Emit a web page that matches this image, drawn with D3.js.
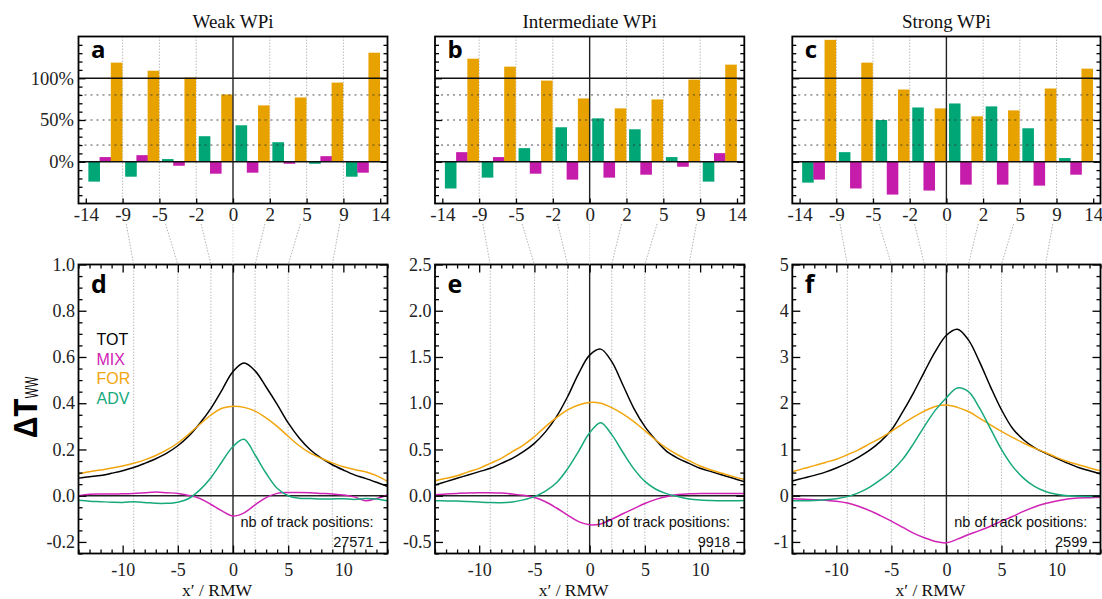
<!DOCTYPE html>
<html><head><meta charset="utf-8">
<script src="https://cdn.jsdelivr.net/npm/d3@7"></script>
<style>body{margin:0;background:#fff}svg{display:block}</style>
</head><body>
<svg id="chart" width="1102" height="599"></svg>
<script>
// ---------------- DATA ----------------
const titles = ["Weak WPi", "Intermediate WPi", "Strong WPi"];
const topLetters = ["a", "b", "c"];
const botLetters = ["d", "e", "f"];
const binLabels = [-14, -9, -5, -2, 0, 2, 5, 9, 14];
const series = ["TOT", "MIX", "FOR", "ADV"];

// bar panels: % contribution per bin (8 bins)
const advPctA = [-23.8, -17.9, 3.2, 30.6, 43.7, 23.4, -2.4, -17.9];
const mixPctA = [5.6, 7.9, -4.8, -14.3, -13.1, -2.4, 6.7, -13.1];
const forPctA = [118.7, 109, 100.8, 80.6, 67.5, 77, 94.8, 130.6];
const advPctB = [-32, -19, 16.3, 41.3, 52, 38.9, 5.6, -23.8];
const mixPctB = [11.5, 5.6, -14.3, -21.4, -19, -15.5, -6, 10.3];
const forPctB = [123.4, 113.9, 97.2, 75.8, 63.9, 74.6, 98.4, 116.3];
const advPctC = [-25, 11.5, 50, 65, 69.8, 66.3, 40.1, 4.4];
const mixPctC = [-21.4, -32, -39.3, -34.5, -27.4, -27.4, -28.6, -15.5];
const forPctC = [146, 118.7, 86.5, 63.9, 54.4, 61.5, 87.7, 111.5];

const pctTicks = [0, 50, 100];
const pctLabels = ["0%", "50%", "100%"];
const pctMinor = [-40, -30, -20, -10, 10, 20, 30, 40, 60, 70, 80, 90, 110, 120, 130, 140];
const pctDotted = [20, 50, 80];
const pctDomain = [-50, 150];

// curve panels: x' / RMW
const xGrid = [-14,-13,-12,-11,-10,-9,-8,-7,-6,-5,-4,-3,-2,-1,0,1,2,3,4,5,6,7,8,9,10,11,12,13,14];

const totD = [0.076,0.082,0.087,0.097,0.108,0.122,0.14,0.16,0.184,0.216,0.258,0.313,0.378,0.457,0.537,0.574,0.54,0.47,0.395,0.315,0.25,0.199,0.162,0.134,0.111,0.09,0.075,0.058,0.04];
const mixD = [-0.001,0.006,0.007,0.007,0.008,0.01,0.013,0.016,0.013,0.01,0.001,-0.012,-0.038,-0.066,-0.088,-0.074,-0.04,-0.008,0.01,0.014,0.014,0.013,0.01,0.007,0.003,-0.005,-0.022,-0.012,0.003];
const forD = [0.095,0.104,0.111,0.12,0.128,0.14,0.155,0.174,0.198,0.228,0.267,0.309,0.349,0.378,0.387,0.382,0.366,0.337,0.3,0.257,0.216,0.184,0.162,0.142,0.125,0.113,0.104,0.087,0.062];
const advD = [-0.02,-0.024,-0.026,-0.028,-0.029,-0.026,-0.029,-0.033,-0.033,-0.028,-0.012,0.025,0.078,0.147,0.213,0.244,0.176,0.097,0.032,0.0,-0.011,-0.012,-0.014,-0.014,-0.013,-0.016,-0.012,-0.014,-0.022];

const totE = [0.115,0.152,0.188,0.224,0.26,0.296,0.35,0.404,0.476,0.566,0.69,0.855,1.07,1.32,1.52,1.585,1.45,1.2,0.945,0.747,0.6,0.476,0.404,0.35,0.296,0.26,0.224,0.188,0.152];
const mixE = [0.008,0.018,0.025,0.03,0.033,0.032,0.028,0.018,0.004,-0.02,-0.065,-0.133,-0.21,-0.28,-0.315,-0.305,-0.255,-0.195,-0.14,-0.085,-0.04,-0.008,0.012,0.02,0.024,0.025,0.025,0.025,0.025];
const forE = [0.162,0.188,0.216,0.258,0.296,0.35,0.404,0.476,0.548,0.639,0.747,0.844,0.927,0.981,1.008,1.0,0.952,0.884,0.8,0.703,0.6,0.512,0.44,0.379,0.321,0.278,0.242,0.206,0.177];
const advE = [-0.054,-0.056,-0.058,-0.063,-0.069,-0.074,-0.075,-0.068,-0.045,-0.01,0.05,0.14,0.29,0.48,0.68,0.79,0.66,0.47,0.29,0.155,0.07,0.02,-0.01,-0.035,-0.047,-0.052,-0.055,-0.055,-0.053];

const totF = [0.32,0.38,0.44,0.51,0.6,0.705,0.83,0.98,1.17,1.42,1.8,2.22,2.68,3.12,3.47,3.6,3.37,2.9,2.36,1.86,1.46,1.21,1.04,0.92,0.81,0.705,0.61,0.54,0.47];
const mixF = [-0.065,-0.075,-0.086,-0.1,-0.12,-0.16,-0.23,-0.32,-0.43,-0.55,-0.68,-0.81,-0.91,-0.99,-1.02,-0.94,-0.84,-0.755,-0.66,-0.55,-0.45,-0.34,-0.245,-0.17,-0.115,-0.07,-0.05,-0.043,-0.036];
const forF = [0.52,0.585,0.65,0.72,0.79,0.885,0.99,1.12,1.245,1.39,1.55,1.7,1.83,1.93,1.96,1.91,1.82,1.68,1.53,1.39,1.26,1.14,1.03,0.935,0.83,0.74,0.67,0.6,0.54];
const advF = [-0.11,-0.11,-0.105,-0.09,-0.065,-0.02,0.06,0.18,0.34,0.53,0.78,1.12,1.5,1.85,2.12,2.33,2.25,1.9,1.45,1.0,0.64,0.38,0.2,0.09,0.03,0.0,-0.012,-0.015,-0.015];

const trackCounts = ["27571", "9918", "2599"];
const yDomains = [[-0.25, 1.0], [-0.625, 2.5], [-1.25, 5]];
const yMajor = [[-0.2, 0, 0.2, 0.4, 0.6, 0.8, 1.0], [-0.5, 0, 0.5, 1.0, 1.5, 2.0, 2.5], [-1, 0, 1, 2, 3, 4, 5]];
const yMinorStep = [0.05, 0.125, 0.25];
const yDecimals = [1, 1, 0];
const xMajor = [-10, -5, 0, 5, 10];
const xMinor = [-14,-13,-12,-11,-9,-8,-7,-6,-4,-3,-2,-1,1,2,3,4,6,7,8,9,11,12,13,14];
const markerX = [-9, -5, -2, 2, 5, 9];

// ---------------- LAYOUT / STYLE ----------------
const barsByPanel = [[advPctA, mixPctA, forPctA], [advPctB, mixPctB, forPctB], [advPctC, mixPctC, forPctC]];
const linesByPanel = [[totD, mixD, forD, advD], [totE, mixE, forE, advE], [totF, mixF, forF, advF]];
const cols = [[78.5, 387.5], [435, 744.3], [792.3, 1100.5]];
const TOP = [36.5, 203.5], BOT = [264.5, 553.5];
const serif = "'Liberation Serif','DejaVu Serif',serif";
const sans = "'Open Sans','Noto Sans','DejaVu Sans',sans-serif";
const plainSans = "'Liberation Sans',Arial,sans-serif";
const barColors = ["#00a676", "#c61cab", "#e8a200"];
const lineColors = {TOT: "#000000", MIX: "#d022b5", FOR: "#f2a60d", ADV: "#17a97c"};

const svg = d3.select("#chart");

function styleAxis(g, size) {
  g.attr("font-family", null).attr("font-size", null);
  g.select(".domain").remove();
  g.selectAll(".tick line").attr("stroke", "#000").attr("stroke-width", 1.3);
  g.selectAll(".tick text").filter(function () { return this.textContent === ""; }).remove();
  g.selectAll(".tick text")
    .style("font-family", serif).style("font-size", (size || 18) + "px").attr("fill", "#222");
}

cols.forEach(([x0, x1], i) => {
  // ================= TOP BAR PANEL =================
  const gt = svg.append("g");
  const xi = d3.scaleLinear().domain([0, 8]).range([x0 + 7.3, x1 - 7.3]);
  const yp = d3.scaleLinear().domain(pctDomain).range([TOP[1], TOP[0]]);
  const bw = xi(1) - xi(0);

  [1, 2, 3, 5, 6, 7].forEach(k => {
    gt.append("line").attr("x1", xi(k)).attr("x2", xi(k)).attr("y1", TOP[0]).attr("y2", TOP[1])
      .attr("stroke", "#b5b5b5").attr("stroke-width", 0.9).attr("stroke-dasharray", "1.5,1.5");
  });

  barsByPanel[i].forEach((vals, s) => {
    gt.selectAll(null).data(vals).enter().append("rect")
      .attr("x", (d, k) => xi(k) + bw * 0.07 + s * bw * 0.305)
      .attr("width", bw * 0.315)
      .attr("y", d => yp(Math.max(0, d)))
      .attr("height", d => Math.abs(yp(d) - yp(0)))
      .attr("fill", barColors[s]);
  });

  pctDotted.forEach(v => {
    gt.append("line").attr("x1", x0).attr("x2", x1).attr("y1", yp(v)).attr("y2", yp(v))
      .attr("stroke", "#333").attr("stroke-width", 1).attr("stroke-dasharray", "2,4").attr("opacity", 0.85);
  });
  [0, 100].forEach(v => {
    gt.append("line").attr("x1", x0).attr("x2", x1).attr("y1", yp(v)).attr("y2", yp(v))
      .attr("stroke", "#111").attr("stroke-width", 1.4);
  });
  gt.append("line").attr("x1", xi(4)).attr("x2", xi(4)).attr("y1", TOP[0]).attr("y2", TOP[1])
    .attr("stroke", "#222").attr("stroke-width", 1.4);

  const ga = gt.append("g").attr("transform", `translate(${x0},0)`)
    .call(d3.axisLeft(yp).tickValues(pctTicks).tickSize(-7).tickPadding(4.5)
      .tickFormat((d, k) => i === 0 ? pctLabels[k] : ""));
  styleAxis(ga, 18.5);
  const gam = gt.append("g").attr("transform", `translate(${x0},0)`)
    .call(d3.axisLeft(yp).tickValues(pctMinor).tickSize(-4).tickFormat(""));
  styleAxis(gam);
  const gr = gt.append("g").attr("transform", `translate(${x1},0)`)
    .call(d3.axisRight(yp).tickValues(pctTicks).tickSize(-7).tickFormat(""));
  styleAxis(gr);
  const grm = gt.append("g").attr("transform", `translate(${x1},0)`)
    .call(d3.axisRight(yp).tickValues(pctMinor).tickSize(-4).tickFormat(""));
  styleAxis(grm);
  const gb = gt.append("g").attr("transform", `translate(0,${TOP[1]})`)
    .call(d3.axisBottom(xi).tickValues(d3.range(9)).tickSize(-5).tickPadding(4)
      .tickFormat(k => String(binLabels[k])));
  styleAxis(gb, 19);

  gt.append("rect").attr("x", x0).attr("y", TOP[0]).attr("width", x1 - x0).attr("height", TOP[1] - TOP[0])
    .attr("fill", "none").attr("stroke", "#000").attr("stroke-width", 1.8);

  gt.append("text").attr("x", x0 + 12.5).attr("y", 58).text(topLetters[i])
    .style("font-family", sans).attr("font-weight", 700).attr("font-size", 24).attr("fill", "#000");
  gt.append("text").attr("x", (x0 + x1) / 2).attr("y", 28).attr("text-anchor", "middle").text(titles[i])
    .style("font-family", serif).attr("font-size", 19).attr("fill", "#111");

  // ================= BOTTOM CURVE PANEL =================
  const gbt = svg.append("g");
  const x = d3.scaleLinear().domain([-14, 14]).range([x0, x1]);
  const y = d3.scaleLinear().domain(yDomains[i]).range([BOT[1], BOT[0]]);

  binLabels.forEach((v, k) => {
    if (k === 0 || k === 8) return;
    const xa = xi(k), xb = x(v);
    const ya = TOP[1], yb = BOT[0], ys = 224;
    const t = (ys - ya) / (yb - ya);
    svg.append("line").attr("x1", xa + (xb - xa) * t).attr("y1", ys).attr("x2", xb).attr("y2", yb)
      .attr("stroke", k === 4 ? "#d0d0d0" : "#aaaaaa").attr("stroke-width", 0.9).attr("stroke-dasharray", "1.5,1.5");
  });

  markerX.forEach(v => {
    gbt.append("line").attr("x1", x(v)).attr("x2", x(v)).attr("y1", BOT[0]).attr("y2", BOT[1])
      .attr("stroke", "#b5b5b5").attr("stroke-width", 0.9).attr("stroke-dasharray", "1.5,1.5");
  });
  gbt.append("line").attr("x1", x(0)).attr("x2", x(0)).attr("y1", BOT[0]).attr("y2", BOT[1])
    .attr("stroke", "#222").attr("stroke-width", 1.4);
  gbt.append("line").attr("x1", x0).attr("x2", x1).attr("y1", y(0)).attr("y2", y(0))
    .attr("stroke", "#222").attr("stroke-width", 1.4);

  const clipId = "clip" + i;
  svg.append("clipPath").attr("id", clipId).append("rect")
    .attr("x", x0).attr("y", BOT[0]).attr("width", x1 - x0).attr("height", BOT[1] - BOT[0]);
  const line = d3.line().x((d, k) => x(xGrid[k])).y(d => y(d)).curve(d3.curveCatmullRom.alpha(0.5));
  linesByPanel[i].forEach((vals, s) => {
    gbt.append("path").datum(vals).attr("d", line).attr("fill", "none")
      .attr("stroke", lineColors[series[s]]).attr("stroke-width", 1.5).attr("clip-path", `url(#${clipId})`);
  });

  const minor = d3.range(yDomains[i][0], yDomains[i][1] + 1e-9, yMinorStep[i]).filter(v => !yMajor[i].some(m => Math.abs(m - v) < 1e-9));
  const fmt = d => (Math.abs(d) < 1e-9 ? 0 : d).toFixed(yDecimals[i]);
  const gl = gbt.append("g").attr("transform", `translate(${x0},0)`)
    .call(d3.axisLeft(y).tickValues(yMajor[i]).tickSize(-8).tickPadding(3.5).tickFormat(fmt));
  styleAxis(gl, 18);
  const glm = gbt.append("g").attr("transform", `translate(${x0},0)`)
    .call(d3.axisLeft(y).tickValues(minor).tickSize(-4).tickFormat(""));
  styleAxis(glm);
  const grr = gbt.append("g").attr("transform", `translate(${x1},0)`)
    .call(d3.axisRight(y).tickValues(yMajor[i]).tickSize(-8).tickFormat(""));
  styleAxis(grr);
  const grrm = gbt.append("g").attr("transform", `translate(${x1},0)`)
    .call(d3.axisRight(y).tickValues(minor).tickSize(-4).tickFormat(""));
  styleAxis(grrm);
  const gxb = gbt.append("g").attr("transform", `translate(0,${BOT[1]})`)
    .call(d3.axisBottom(x).tickValues(xMajor).tickSize(-8).tickPadding(9.5).tickFormat(d => String(d)));
  styleAxis(gxb, 18);
  const gxbm = gbt.append("g").attr("transform", `translate(0,${BOT[1]})`)
    .call(d3.axisBottom(x).tickValues(xMinor).tickSize(-4).tickFormat(""));
  styleAxis(gxbm);
  const gxt = gbt.append("g").attr("transform", `translate(0,${BOT[0]})`)
    .call(d3.axisTop(x).tickValues(xMajor).tickSize(-8).tickFormat(""));
  styleAxis(gxt);
  const gxtm = gbt.append("g").attr("transform", `translate(0,${BOT[0]})`)
    .call(d3.axisTop(x).tickValues(xMinor).tickSize(-4).tickFormat(""));
  styleAxis(gxtm);

  gbt.append("rect").attr("x", x0).attr("y", BOT[0]).attr("width", x1 - x0).attr("height", BOT[1] - BOT[0])
    .attr("fill", "none").attr("stroke", "#000").attr("stroke-width", 1.8);

  gbt.append("text").attr("x", x0 + 12.5).attr("y", 293).text(botLetters[i])
    .style("font-family", sans).attr("font-weight", 700).attr("font-size", 25).attr("fill", "#000");

  gbt.append("text").attr("x", x0 + 295).attr("y", 527).attr("text-anchor", "end").text("nb of track positions:")
    .style("font-family", plainSans).attr("font-size", 14.5).attr("fill", "#111");
  gbt.append("text").attr("x", x0 + 295).attr("y", 547).attr("text-anchor", "end").text(trackCounts[i])
    .style("font-family", plainSans).attr("font-size", 14.5).attr("fill", "#111");

  gbt.append("text").attr("x", (x0 + x1) / 2 - 16).attr("y", 595.5).attr("text-anchor", "middle").text("x\u2032 / RMW")
    .style("font-family", serif).attr("font-size", 17.5).attr("fill", "#111");
});

// legend in panel d
series.forEach((s, k) => {
  svg.append("text").attr("x", 96.5).attr("y", 345 + k * 19.5).text(s)
    .style("font-family", plainSans).attr("font-size", 16).attr("fill", lineColors[s]);
});

// y-axis label
const yl = svg.append("text").attr("transform", "translate(37,438) rotate(-90)")
  .style("font-family", sans).attr("fill", "#000");
yl.append("tspan").text("\u0394T").attr("font-size", 32).attr("font-weight", 700);
yl.append("tspan").text("WW").attr("font-size", 19).attr("dy", 1)
  .attr("textLength", 22).attr("lengthAdjust", "spacingAndGlyphs");
</script>
</body></html>
